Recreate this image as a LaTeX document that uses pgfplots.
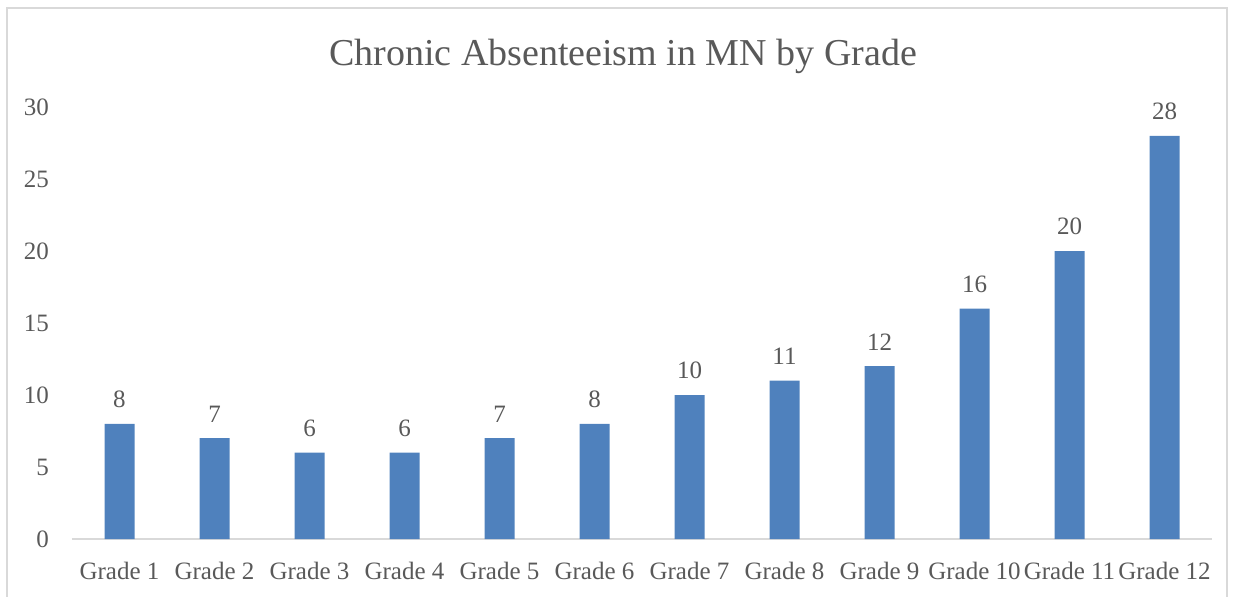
\documentclass[border=0pt]{standalone}
\usepackage{pgfplots}
\pgfplotsset{compat=1.18}
\usepackage{fontspec}
\setmainfont{Liberation Serif}
\definecolor{barblue}{HTML}{4F81BD}
\definecolor{gridgray}{HTML}{D9D9D9}
\definecolor{txtgray}{HTML}{595959}
\begin{document}
\begin{tikzpicture}
\useasboundingbox (0,0) rectangle (617pt,298pt);
\begin{scope}
\clip (0,0) rectangle (617pt,298pt);
\draw[gridgray, line width=0.8pt] (3.5pt,-5pt) rectangle (613.5pt,294pt);
\end{scope}
\node[txtgray, font=\fontsize{19pt}{22pt}\selectfont] at (311.5pt,270pt) {Chronic Absenteeism in MN by Grade};
\begin{axis}[
  at={(36pt,28.5pt)}, anchor=south west,
  scale only axis, width=570pt, height=216pt,
  ymin=0, ymax=30, ytick={0,5,...,30},
  xmin=-0.5, xmax=11.5,
  xtick=data,
  xticklabels={Grade 1,Grade 2,Grade 3,Grade 4,Grade 5,Grade 6,Grade 7,Grade 8,Grade 9,Grade 10,Grade 11,Grade 12},
  ymajorgrids, grid style={gridgray, line width=0.6pt},
  axis line style={draw=none},
  axis x line*=bottom,
  x axis line style={draw=gridgray, line width=0.8pt},
  axis y line=none,
  major tick length=0pt,
  tick style={draw=none},
  ticklabel style={txtgray, font=\fontsize{12.5pt}{14pt}\selectfont},
  /pgf/number format/assume math mode=true,
  xticklabel style={yshift=-8pt},
  nodes near coords,
  nodes near coords style={txtgray, font=\fontsize{12.5pt}{14pt}\selectfont, yshift=4.5pt},
  clip=false,
]
\addplot[ybar, bar width=15pt, fill=barblue, draw=none] coordinates {
(0,8) (1,7) (2,6) (3,6) (4,7) (5,8) (6,10) (7,11) (8,12) (9,16) (10,20) (11,28)};
\end{axis}
\begin{axis}[
  at={(36pt,28.5pt)}, anchor=south west,
  scale only axis, width=570pt, height=216pt,
  ymin=0, ymax=30, ytick={0,5,...,30},
  xmin=-0.5, xmax=11.5, xtick=\empty,
  axis line style={draw=none}, tick style={draw=none},
  major tick length=0pt,
  ticklabel style={txtgray, font=\fontsize{12.5pt}{14pt}\selectfont},
  /pgf/number format/assume math mode=true,
  yticklabel style={anchor=east, xshift=-8pt},
]
\end{axis}
\end{tikzpicture}
\end{document}
